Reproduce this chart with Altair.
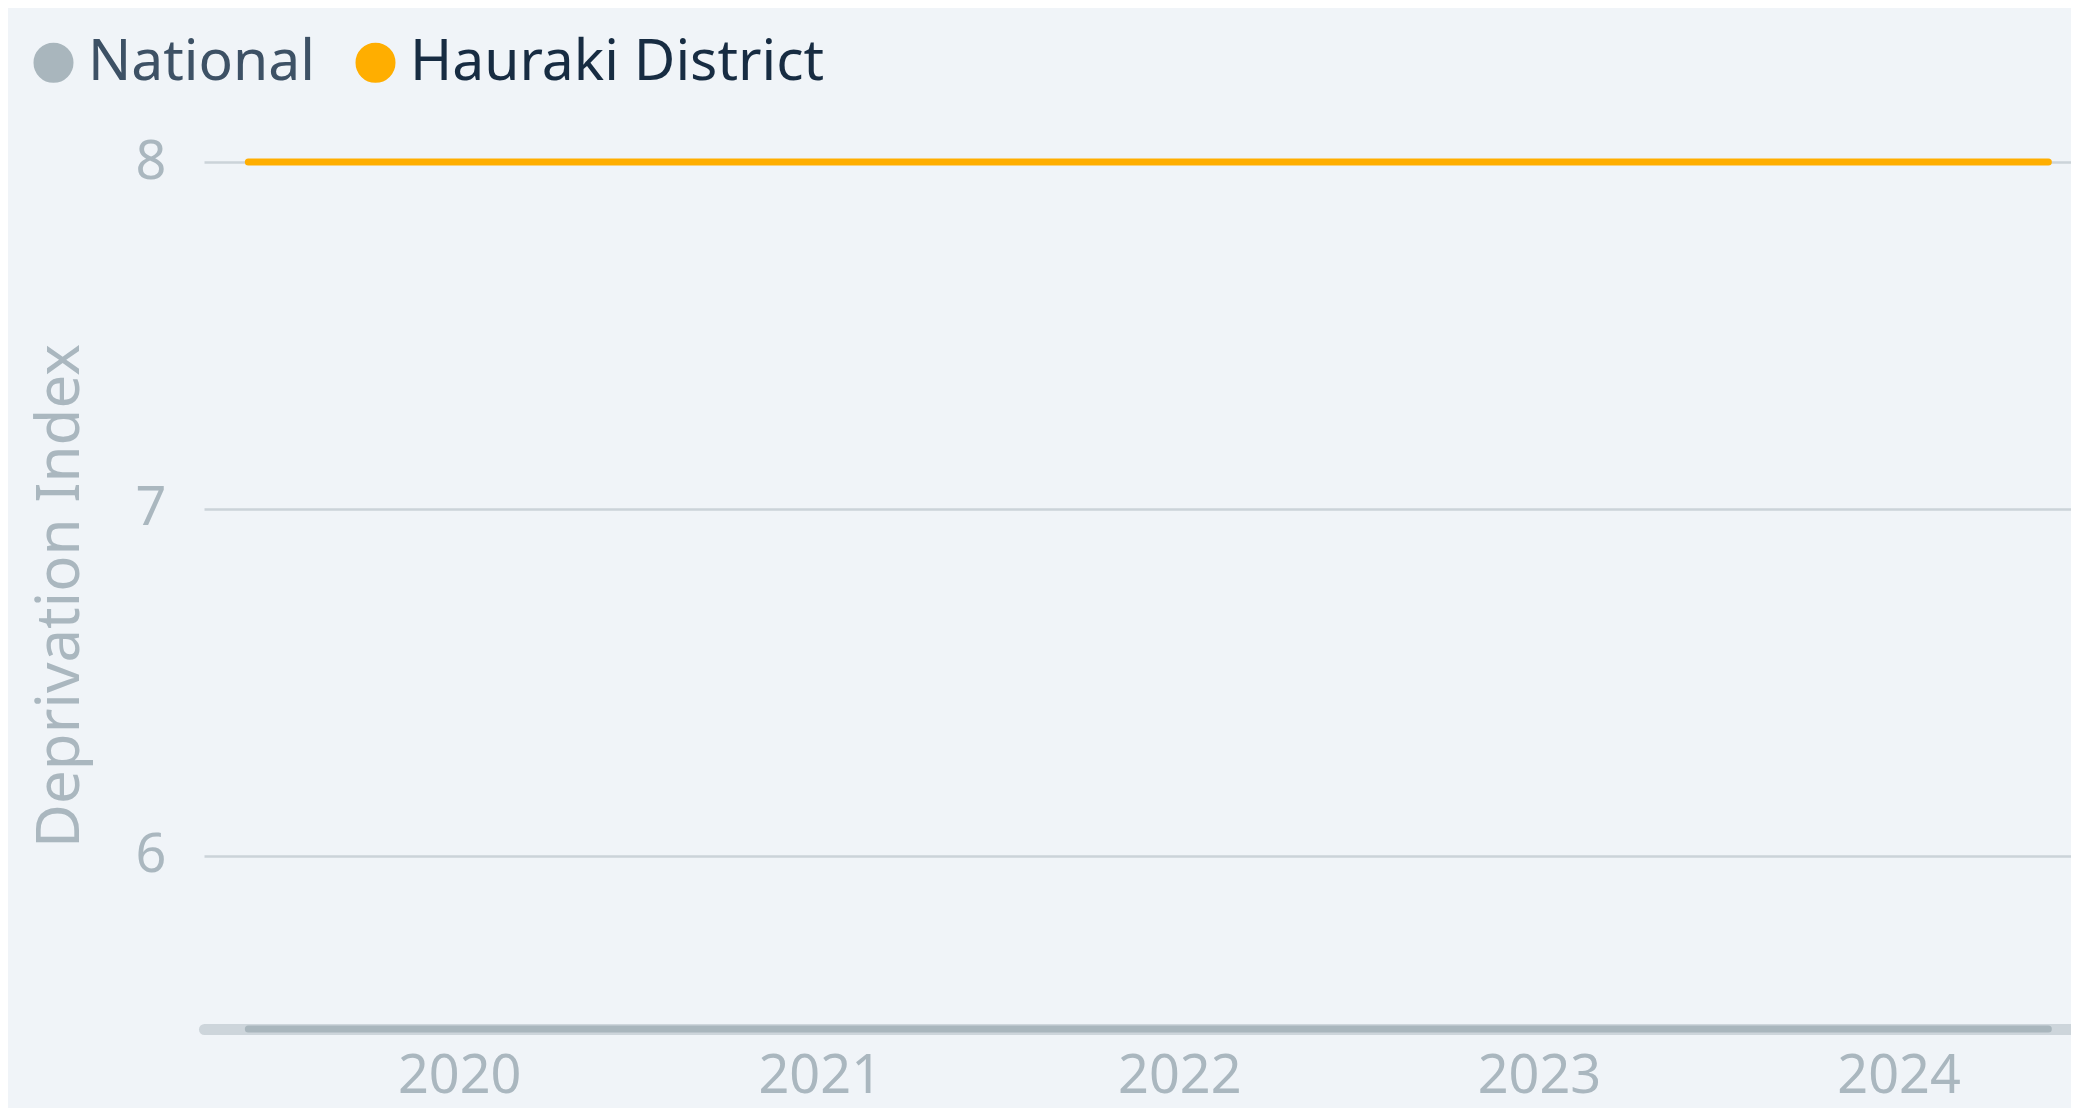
import altair as alt
import pandas as pd

# ---- data ----
dates = ["2019-06-01", "2020-06-01", "2021-06-01", "2022-06-01", "2023-06-01", "2024-06-01"]
national = [5.5, 5.5, 5.5, 5.5, 5.5, 5.5]
hauraki = [8, 8, 8, 8, 8, 8]
series_names = ["National", "Hauraki District"]
series_colors = ["#a9b6bd", "#ffae00"]
y_ticks = [6, 7, 8]
x_tick_years = [2020, 2021, 2022, 2023, 2024]

df = pd.DataFrame({
    "date": dates + dates,
    "value": national + hauraki,
    "series": [series_names[0]] * len(dates) + [series_names[1]] * len(dates),
})

FONT = "Noto Sans"
AXIS_GRAY = "#aab7bf"

x_enc = alt.X(
    "date:T",
    title=None,
    scale=alt.Scale(
        type="utc",
        nice=False,
        domain=[alt.DateTime(year=2019, month=4, date=17, utc=True),
                alt.DateTime(year=2024, month=6, date=24, utc=True)],
    ),
    axis=alt.Axis(
        values=[alt.DateTime(year=y, month=1, date=1, utc=True) for y in x_tick_years],
        format="%Y",
        labelFont=FONT, labelFontSize=54, labelColor=AXIS_GRAY,
        labelPadding=20, labelFlush=False, labelOverlap=False,
        ticks=False, grid=False,
        domain=True, domainColor="#cdd5db", domainWidth=11, domainCap="round",
    ),
)

y_enc = alt.Y(
    "value:Q",
    scale=alt.Scale(domain=[5.5, 8], nice=False, zero=False),
    axis=alt.Axis(
        values=y_ticks,
        title="Deprivation Index",
        titleFont=FONT, titleFontSize=60, titleFontWeight="normal", titleColor=AXIS_GRAY,
        titlePadding=44,
        labelFont=FONT, labelFontSize=54, labelColor=AXIS_GRAY,
        labelPadding=38, labelFlush=False,
        ticks=False, domain=False,
        grid=True, gridColor="#cbd3d9", gridWidth=2.5,
    ),
)

color_enc = alt.Color(
    "series:N",
    scale=alt.Scale(domain=series_names, range=series_colors),
    legend=alt.Legend(
        orient="none", legendX=-179, legendY=-128,
        direction="horizontal", title=None, padding=0,
        symbolType="circle", symbolSize=400, symbolStrokeWidth=20, symbolOpacity=1,
        labelFont=FONT, labelFontSize=57, labelLimit=1000,
        labelColor=alt.ExprRef(expr="datum.label === 'National' ? '#3d5165' : '#172c42'"),
        labelOffset=6, columnPadding=10,
    ),
)

chart = (
    alt.Chart(df)
    .mark_line(strokeWidth=7, strokeCap="round", strokeJoin="round")
    .encode(x=x_enc, y=y_enc, color=color_enc)
    .properties(
        width=1867, height=867,
        background="#f0f4f8",
        padding={"left": 196, "top": 154, "right": 0, "bottom": 79},
        autosize=alt.AutoSizeParams(type="none"),
    )
    .configure_view(stroke=None)
)

chart.save("out.html", embed_options={"renderer": "svg", "actions": False})
